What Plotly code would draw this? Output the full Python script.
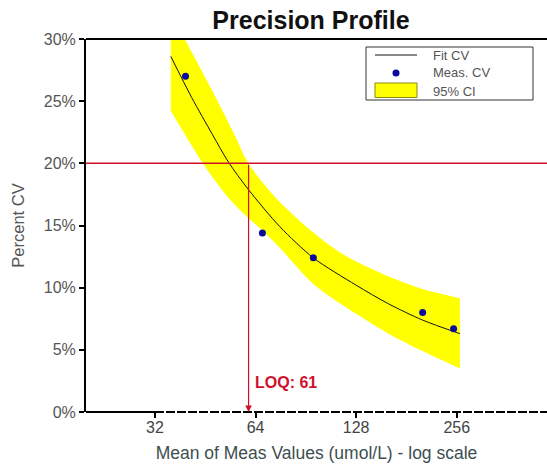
import math
import plotly.graph_objects as go

# ---- data ----
meas_x = [39.5, 67.1, 95.3, 202.4, 250.5]
meas_cv = [27.0, 14.4, 12.4, 8.0, 6.7]

fit_x = [35.7, 41.2, 47.6, 53.1, 60.9, 75.7, 95.3, 128, 160, 202, 261.7]
fit_cv = [28.6, 25.3, 22.3, 20.1, 17.9, 14.9, 12.4, 10.2, 8.7, 7.4, 6.3]

ci_upper_x = [35.7, 39.3, 47.6, 54.9, 60.9, 73.2, 93.1, 111.9, 128, 160, 202, 261.7]
ci_upper = [32.2, 30.0, 25.8, 22.5, 20.0, 17.3, 14.65, 13.0, 12.1, 10.9, 9.9, 9.15]
ci_lower_x = [35.7, 44.5, 52.8, 60.9, 67.1, 75.7, 95.3, 128, 160, 202, 261.7]
ci_lower = [24.2, 20.0, 17.3, 15.6, 14.6, 13.2, 10.3, 7.9, 6.3, 4.9, 3.5]

cv_limit = 20
loq = 61

x_ticks = [32, 64, 128, 256]
x_tick_labels = ["32", "64", "128", "256"]
y_ticks = [0, 5, 10, 15, 20, 25, 30]
y_tick_labels = ["0%", "5%", "10%", "15%", "20%", "25%", "30%"]
legend_labels = ["Fit CV", "Meas. CV", "95% CI"]

# ---- layout geometry ----
W, H = 547, 466
ML, MR, MT, MB = 86, 0, 39, 54
PW, PH = W - ML - MR, H - MT - MB
X_RANGE = [math.log10(19.9), math.log10(476.8)]


def xp(px):
    return (px - ML) / PW


def yp(py):
    return (H - MB - py) / PH


FONT = "Arial, Liberation Sans, sans-serif"
RED = "#d0102a"

fig = go.Figure()
fig.add_trace(go.Scatter(x=ci_lower_x, y=ci_lower, mode="lines",
                         line=dict(width=0, shape="spline", smoothing=0.8), showlegend=False,
                         hoverinfo="skip"))
fig.add_trace(go.Scatter(x=ci_upper_x, y=ci_upper, mode="lines", fill="tonexty",
                         fillcolor="#ffff00", line=dict(width=0, shape="spline", smoothing=0.8),
                         name="95% CI", showlegend=False))
fig.add_trace(go.Scatter(x=fit_x, y=fit_cv, mode="lines",
                         line=dict(color="#111111", width=1, shape="spline", smoothing=0.8),
                         name="Fit CV", showlegend=False))
fig.add_trace(go.Scatter(x=meas_x, y=meas_cv, mode="markers",
                         marker=dict(color="#0a0a9c", size=7),
                         name="Meas. CV", showlegend=False))

shapes = []
# 20% CV limit line
shapes.append(dict(type="line", xref="paper", yref="y", x0=0, x1=1, y0=cv_limit, y1=cv_limit,
                   line=dict(color=RED, width=1.5)))
# top border
shapes.append(dict(type="line", xref="paper", yref="paper", x0=0, x1=1, y0=1, y1=1,
                   line=dict(color="black", width=2)))
# bottom axis: solid then dashed
x32 = xp(155)
shapes.append(dict(type="line", xref="paper", yref="paper", x0=0, x1=x32, y0=0, y1=0,
                   line=dict(color="black", width=2)))
shapes.append(dict(type="line", xref="paper", yref="paper", x0=x32, x1=1, y0=0, y1=0,
                   line=dict(color="black", width=2, dash="9px,2px")))

# custom legend
shapes.append(dict(type="rect", xref="paper", yref="paper", x0=xp(366), x1=xp(533),
                   y0=yp(100), y1=yp(47), line=dict(color="#333333", width=1),
                   fillcolor="white"))
shapes.append(dict(type="line", xref="paper", yref="paper", x0=xp(375), x1=xp(417),
                   y0=yp(55), y1=yp(55), line=dict(color="#111111", width=1)))
shapes.append(dict(type="circle", xref="paper", yref="paper", x0=xp(392.5), x1=xp(399.5),
                   y0=yp(76.5), y1=yp(69.5), fillcolor="#0a0a9c", line=dict(width=0)))
shapes.append(dict(type="rect", xref="paper", yref="paper", x0=xp(375), x1=xp(417),
                   y0=yp(97.5), y1=yp(83), fillcolor="#ffff00",
                   line=dict(color="#8a8a10", width=1)))

annotations = []
for lbl, py in zip(legend_labels, [55, 73, 91]):
    annotations.append(dict(xref="paper", yref="paper", x=xp(431), y=yp(py), text=lbl,
                            showarrow=False, xanchor="left", yanchor="middle",
                            font=dict(family=FONT, size=13, color="#555555")))
# LOQ arrow and label
annotations.append(dict(x=math.log10(loq), y=0, ax=math.log10(loq), ay=cv_limit,
                        xref="x", yref="y", axref="x", ayref="y", text="",
                        showarrow=True, arrowhead=2, arrowsize=1.1, arrowwidth=1.2,
                        arrowcolor=RED))
annotations.append(dict(x=math.log10(loq), y=2.34, xref="x", yref="y",
                        text="<b>LOQ: %d</b>" % loq, showarrow=False, xanchor="left",
                        yanchor="middle", xshift=4,
                        font=dict(family=FONT, size=16, color=RED)))

fig.update_layout(
    width=W, height=H,
    margin=dict(l=ML, r=MR, t=MT, b=MB, pad=0, autoexpand=False),
    paper_bgcolor="white", plot_bgcolor="white",
    font=dict(family=FONT),
    title=dict(text="Precision Profile", xref="paper", x=xp(311), xanchor="center",
               y=1 - 20 / H, yanchor="middle",
               font=dict(family=FONT, size=25, color="#111111", weight="bold")),
    xaxis=dict(type="log", range=X_RANGE, tickvals=x_ticks, ticktext=x_tick_labels,
               showgrid=False, zeroline=False, showline=False, automargin=False,
               ticks="outside", ticklen=5, tickwidth=2, tickcolor="black",
               ticklabelstandoff=-4,
               tickfont=dict(size=16, color="#444444"),
               title=dict(text="Mean of Meas Values (umol/L) - log scale", standoff=11,
                          font=dict(size=17.5, color="#3d4f4f"))),
    yaxis=dict(range=[0, 30], tickvals=y_ticks, ticktext=y_tick_labels,
               showgrid=False, zeroline=False, showline=True, linewidth=2,
               linecolor="black", ticks="outside", ticklen=5, tickwidth=2,
               tickcolor="black", tickfont=dict(size=16, color="#555555"),
               automargin=False,
               title=dict(text="Percent CV", standoff=15,
                          font=dict(size=16.5, color="#555555"))),
    shapes=shapes,
    annotations=annotations,
    showlegend=False,
)

fig.write_html("out.html", config={"displayModeBar": False},
               post_script="document.body.style.margin='0px';document.body.style.padding='0px';")
